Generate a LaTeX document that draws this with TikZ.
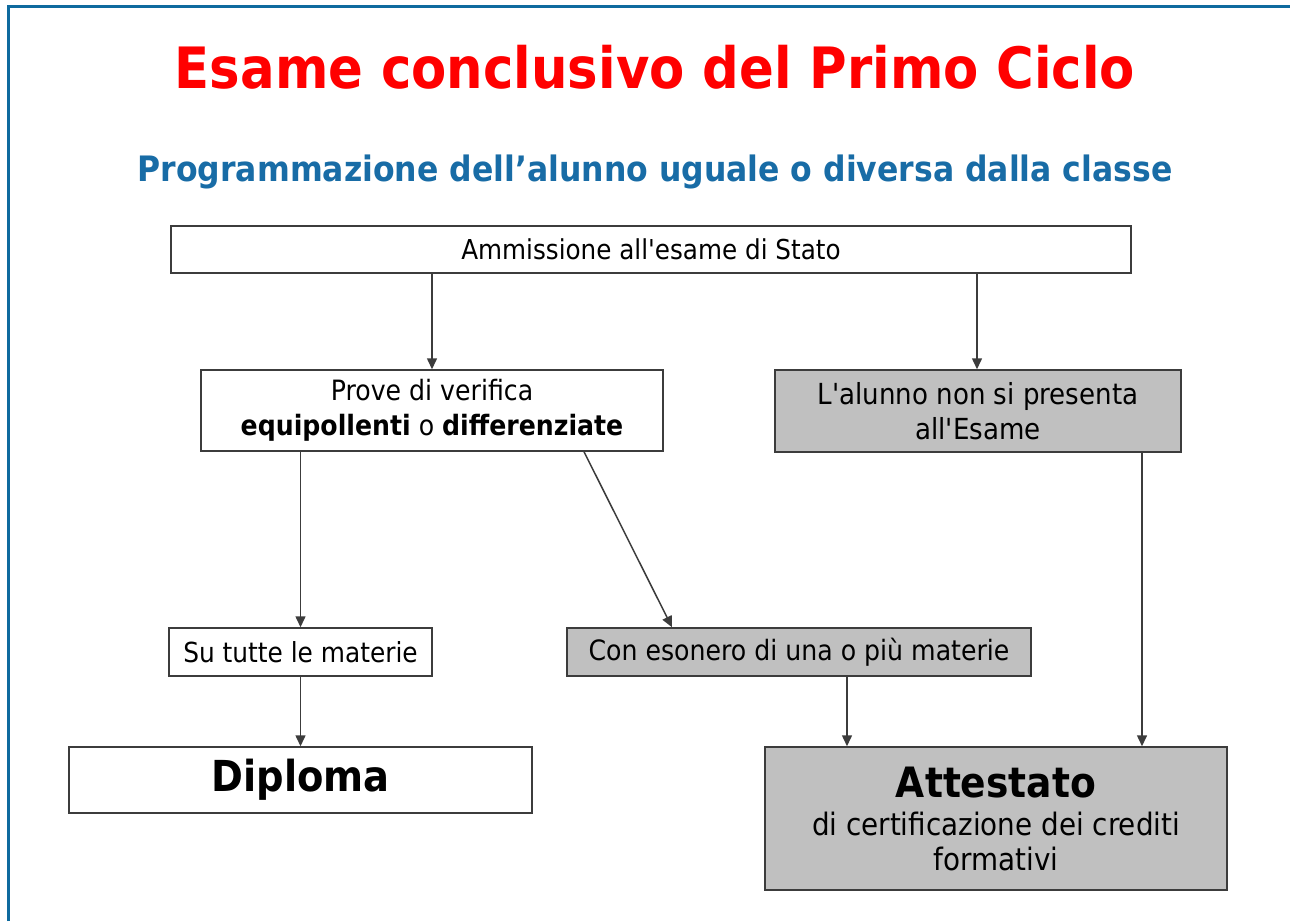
\documentclass[tikz,border=0pt]{standalone}
\usepackage{fontspec}
\setmainfont{DejaVu Sans}[FakeStretch=0.9, Ligatures=TeXOff]
\usetikzlibrary{arrows.meta}
\definecolor{frameblue}{HTML}{0E6A9E}
\definecolor{subblue}{HTML}{186CA6}
\definecolor{titlered}{HTML}{FF0000}
\definecolor{boxgray}{HTML}{C0C0C0}
\definecolor{edge}{HTML}{3C3C3C}
\tikzset{
  box/.style={draw=edge, line width=1.5pt, inner sep=0pt, align=center, text=black},
  graybox/.style={box, fill=boxgray},
  arr/.style={draw=edge, line width=1.5pt, -{Triangle[length=11pt,width=10pt]}},
}
\begin{document}
\begin{tikzpicture}[x=1pt,y=-1pt]
\useasboundingbox (0,0) rectangle (1290,921);
\fill[white] (0,0) rectangle (1290,921);
% frame
\draw[frameblue, line width=3pt] (8,921) -- (8,6) -- (1290,6);
% titles
\node[font=\fontsize{57}{60}\selectfont\bfseries, text=titlered] (title) at (655,67) {Esame conclusivo del Primo Ciclo};
\node[font=\fontsize{35}{38}\selectfont\bfseries, text=subblue] (sub) at (655,172) {Programmazione dell’alunno uguale o diversa dalla classe};
% boxes
\node[box, minimum width=960pt, minimum height=47pt, font=\fontsize{27.4}{30}\selectfont] (amm) at (651,249.5) {Ammissione all'esame di Stato};
\node[box, minimum width=462pt, minimum height=81pt, font=\fontsize{28}{35}\selectfont] (prove) at (432,410.5) {\raisebox{-3pt}{Prove di verifica}\\\raisebox{-3pt}{\textbf{equipollenti} o \textbf{differenziate}}};
\node[graybox, minimum width=406pt, minimum height=82pt, font=\fontsize{29}{35}\selectfont] (alunno) at (978,411) {L'alunno non si presenta\\all'Esame};
\node[box, minimum width=263pt, minimum height=48pt, font=\fontsize{27.6}{30}\selectfont] (su) at (300.5,652) {Su tutte le materie};
\node[graybox, minimum width=464pt, minimum height=48pt, font=\fontsize{28}{30}\selectfont] (con) at (799,652) {Con esonero di una o più materie};
\node[box, minimum width=463pt, minimum height=66pt, font=\fontsize{42.7}{46}\selectfont\bfseries] (dipl) at (300.5,780) {\raisebox{-3pt}{Diploma}};
\node[graybox, minimum width=462pt, minimum height=143pt, font=\fontsize{30.9}{35}\selectfont] (att) at (996,818.5) {{\fontsize{41.8}{44}\selectfont\bfseries Attestato}\\[3pt]di certificazione dei crediti\\formativi};
% connector x positions
\coordinate (xa) at (584,0);
\coordinate (xb) at (672,0);
\coordinate (xc) at (847,0);
\coordinate (xd) at (1142,0);
\coordinate (xe) at (977,0);
% connectors
\draw[arr] (amm.south -| prove.north) -- (prove.north);
\draw[arr] (amm.south -| xe) -- (alunno.north -| xe);
\draw[arr] (prove.south -| su.north) -- (su.north);
\draw[arr] (prove.south -| xa) -- (con.north -| xb);
\draw[arr] (su.south) -- (dipl.north -| su.south);
\draw[arr] (con.south -| xc) -- (att.north -| xc);
\draw[arr] (alunno.south -| xd) -- (att.north -| xd);
\end{tikzpicture}
\end{document}
